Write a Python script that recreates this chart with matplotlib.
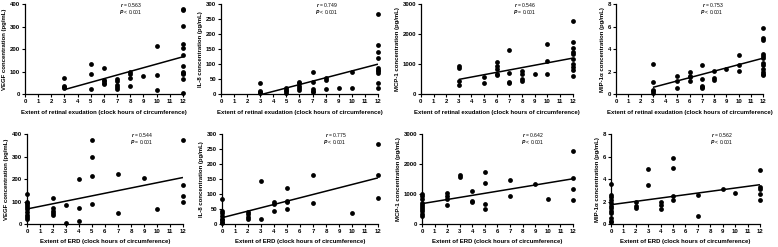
import matplotlib
matplotlib.use("Agg")
import matplotlib.pyplot as plt

plt.rcParams['font.family'] = ['Liberation Sans', 'DejaVu Sans']
plt.rcParams['font.weight'] = 'bold'
plt.rcParams['mathtext.fontset'] = 'custom'
plt.rcParams['mathtext.it'] = 'Liberation Sans:italic'
plt.rcParams['mathtext.rm'] = 'Liberation Sans'

# ---- data ----
# top row: extent of retinal exudation (clock hours)
exu_x = [3, 5, 6, 7, 8, 9, 10, 12]

vegf_exu = [[72, 38, 30, 25], [136, 89, 22], [117, 63, 57, 50, 43],
            [68, 57, 42, 32, 24], [97, 90, 73, 38], [81], [216, 87, 19],
            [378, 372, 302, 222, 203, 176, 124, 100, 95, 88, 68, 5]]
il8_exu = [[37, 12, 8, 3], [20, 15, 9, 4], [42, 37, 28, 20, 13],
           [73, 42, 17, 12, 8], [53, 48, 17], [22], [73, 19],
           [268, 165, 142, 120, 87, 82, 76, 70, 37, 19]]
mcp1_exu = [[950, 860, 440, 310], [570, 370], [1070, 950, 850, 680, 640],
            [1470, 700, 420, 380], [760, 680, 500, 450], [680], [1680, 1100, 680],
            [2450, 1750, 1550, 1400, 1350, 1170, 990, 900, 820, 600]]
mip_exu = [[2.65, 1.05, 0.38, 0.25, 0.12], [1.65, 1.2, 0.55], [2.0, 1.65, 1.5, 1.2],
           [2.55, 1.35, 0.75, 0.62, 0.5], [2.1, 1.4, 1.25], [2.2], [3.45, 2.55, 2.05],
           [5.9, 4.95, 4.8, 3.55, 3.4, 3.2, 2.75, 2.6, 2.2, 2.0, 1.8, 1.7]]

# bottom row: extent of ERD (clock hours)
erd_x = [0, 2, 3, 4, 5, 7, 9, 10, 12]

vegf_erd = [[133, 100, 92, 85, 75, 65, 55, 40, 30, 22], [115, 70, 60, 50, 40], [85, 4],
            [200, 72, 15], [375, 300, 215, 90], [222, 50], [203], [67],
            [375, 175, 123, 100]]
il8_erd = [[82, 42, 38, 28, 18, 12, 8, 4], [40, 32, 24, 16], [142, 18], [72, 68, 44],
           [121, 77, 72, 51], [164, 71], [], [36], [268, 165, 86]]
mcp1_erd = [[1000, 930, 820, 690, 620, 560, 490, 420, 350, 280], [1050, 930, 850, 650],
            [1650, 1570], [1090, 780, 720], [1740, 1380, 670, 490], [1460, 930],
            [1330], [840], [2450, 1520, 1170, 810]]
mip_erd = [[3.55, 2.6, 2.4, 2.1, 1.9, 1.6, 1.4, 1.2, 1.0, 0.5, 0.3, 0.15],
           [2.0, 1.6, 1.45], [4.9, 3.45], [2.0, 1.65, 1.3], [5.9, 5.0, 2.45, 2.1],
           [2.6, 0.7], [3.15], [2.72], [4.8, 3.3, 3.15, 2.7, 2.15]]

# regression line ends (x, y) as drawn
fit_x = [[3, 12], [3.2, 12], [3, 12], [3, 12], [0, 12], [0, 12], [0, 12], [0, 12]]
fit_y = [[20, 166], [0, 100], [490, 1200], [0.6, 3.2],
         [67, 207], [21, 154], [680, 1510], [1.72, 3.5]]

r_vals = ['0.563', '0.749', '0.546', '0.753', '0.544', '0.775', '0.642', '0.562']
p_vals = ['< 0.001', '< 0.001', '= 0.001', '< 0.001', '= 0.001', '< 0.001', '< 0.001', '< 0.001']

ylabels = ['VEGF concentration (pg/mL)', 'IL-8 concentration (pg/mL)',
           'MCP-1 concentration (pg/mL)', 'MIP-1\u03b1 concentration (pg/mL)']
yticks = [[0, 100, 200, 300, 400], [0, 50, 100, 150, 200, 250, 300],
          [0, 1000, 2000, 3000], [0, 2, 4, 6, 8]]
xlabels = ['Extent of retinal exudation (clock hours of circumference)',
           'Extent of ERD (clock hours of circumference)']

series = [(exu_x, vegf_exu), (exu_x, il8_exu), (exu_x, mcp1_exu), (exu_x, mip_exu),
          (erd_x, vegf_erd), (erd_x, il8_erd), (erd_x, mcp1_erd), (erd_x, mip_erd)]

# axes placement (figure fractions)
rects = [[0.0321, 0.619, 0.203, 0.364], [0.284, 0.619, 0.2018, 0.364],
         [0.541, 0.619, 0.195, 0.364], [0.792, 0.619, 0.189, 0.364],
         [0.0347, 0.093, 0.2005, 0.364], [0.2853, 0.093, 0.2005, 0.364],
         [0.5424, 0.093, 0.194, 0.364], [0.7853, 0.093, 0.1915, 0.364]]
txt_x = [0.74, 0.745, 0.76, 0.73, 0.81, 0.80, 0.81, 0.82]

fig = plt.figure(figsize=(7.78, 2.47), dpi=100)

for i, (xs, groups) in enumerate(series):
    ax = fig.add_axes(rects[i])
    px, py = [], []
    for x, g in zip(xs, groups):
        px += [x] * len(g)
        py += g
    ax.scatter(px, py, s=12, color='black', zorder=3, clip_on=False, linewidths=0)
    ax.plot(fit_x[i], fit_y[i], color='black', linewidth=1.1, solid_capstyle='butt', zorder=4)

    yt = yticks[i % 4]
    ax.set_xlim(0, 12)
    ax.set_ylim(0, yt[-1])
    ax.set_xticks(range(13))
    ax.set_yticks(yt)
    for s in ['top', 'right']:
        ax.spines[s].set_visible(False)
    for s in ['left', 'bottom']:
        ax.spines[s].set_linewidth(0.9)
    ax.tick_params(length=2, width=0.8, pad=1.5, labelsize=4.3)
    for lab in ax.get_xticklabels() + ax.get_yticklabels():
        lab.set_fontweight('bold')
    ax.set_ylabel(ylabels[i % 4], fontsize=4.3, fontweight='bold', labelpad=2)
    ax.set_xlabel(xlabels[i // 4], fontsize=4.3, fontweight='bold', labelpad=4)

    ax.text(txt_x[i], 0.99, '$\\it{r}$ = ' + r_vals[i], transform=ax.transAxes,
            ha='right', va='center', fontsize=3.6, fontweight='normal')
    ax.text(txt_x[i], 0.91, '$\\it{P}$ ' + p_vals[i], transform=ax.transAxes,
            ha='right', va='center', fontsize=3.6, fontweight='normal')

fig.savefig('out.png', dpi=100)
